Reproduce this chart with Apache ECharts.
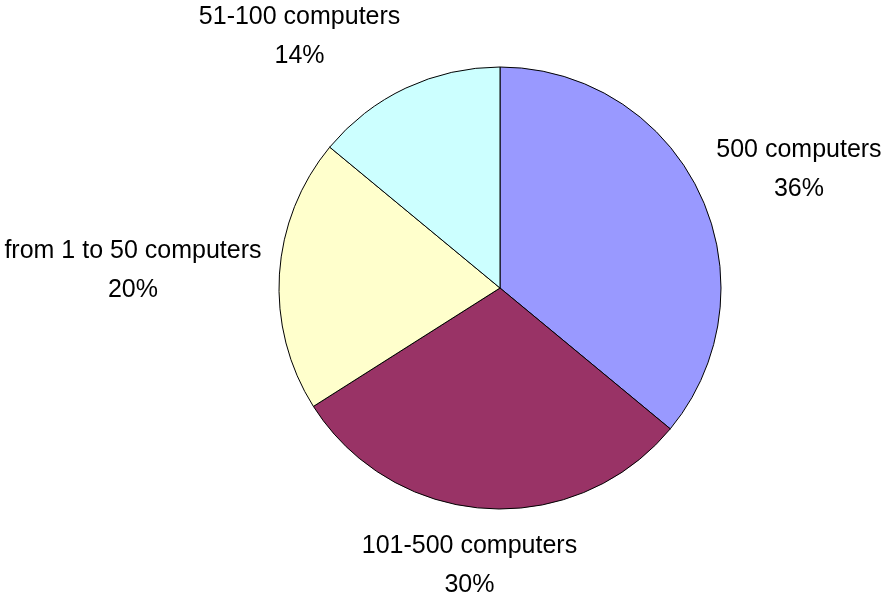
<!DOCTYPE html>
<html>
<head>
<meta charset="utf-8">
<style>html,body{margin:0;padding:0;background:#fff}#c{width:882px;height:593px}</style>
<script src="https://cdn.jsdelivr.net/npm/echarts@6/dist/echarts.min.js"></script>
</head>
<body>
<div id="c"></div>
<script>
const categories = ['500 computers', '101-500 computers', 'from 1 to 50 computers', '51-100 computers'];
const values = [36, 30, 20, 14];
const colors = ['#9999FF', '#993366', '#FFFFCC', '#CCFFFF'];

const GAP = 18;
const chart = echarts.init(document.getElementById('c'), null, {renderer: 'canvas'});
chart.setOption({
  animation: false,
  backgroundColor: '#ffffff',
  series: [{
    type: 'pie',
    center: [500, 288],
    radius: 221,
    startAngle: 90,
    clockwise: true,
    avoidLabelOverlap: false,
    data: categories.map((n, i) => ({name: n, value: values[i], itemStyle: {color: colors[i]}})),
    itemStyle: {borderColor: '#000', borderWidth: 1},
    label: {
      show: true,
      position: 'outside',
      formatter: '{b}\n{d}%',
      fontFamily: 'Liberation Sans, Arial, sans-serif',
      fontSize: 25,
      lineHeight: 39,
      color: '#000',
      overflow: 'none'
    },
    labelLine: {show: true, length: GAP, length2: 0, lineStyle: {opacity: 0}},
    emphasis: {disabled: true},
    labelLayout: function (p) {
      const pts = p.labelLinePoints;
      if (!pts) return {};
      const p0 = pts[0], p1 = pts[1];
      const len = Math.hypot(p1[0] - p0[0], p1[1] - p0[1]) || 1;
      const dx = (p1[0] - p0[0]) / len, dy = (p1[1] - p0[1]) / len;
      const w = p.labelRect.width, h = p.labelRect.height;
      const fx = Math.max(-1, Math.min(1, dx * 2.3));
      return {
        x: p1[0] + fx * w / 2,
        y: p1[1] + dy * h / 2,
        align: 'center',
        verticalAlign: 'middle',
        hideOverlap: false
      };
    }
  }]
});
</script>
</body>
</html>
